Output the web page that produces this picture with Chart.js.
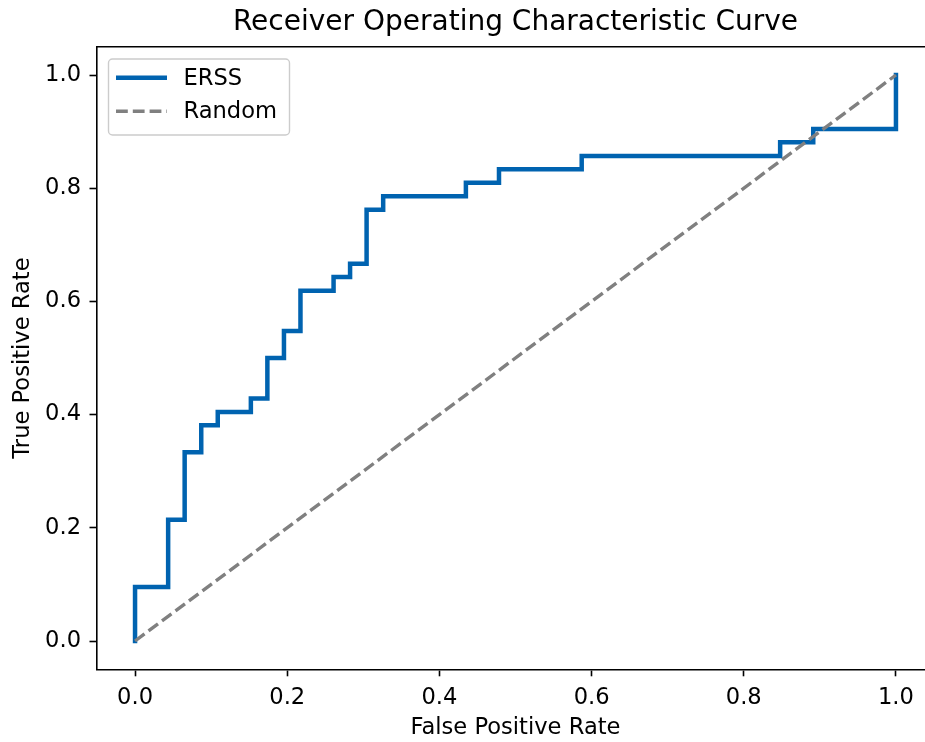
<!DOCTYPE html>
<html>
<head>
<meta charset="utf-8">
<script src="https://cdn.jsdelivr.net/npm/chart.js@4.4.1/dist/chart.umd.min.js"></script>
<style>
html, body { margin: 0; padding: 0; background: #fff; overflow: hidden; }
#wrap { width: 945px; height: 742px; }
</style>
</head>
<body>
<div id="wrap"><canvas id="rocCanvas" width="945" height="742"></canvas></div>
<script>
// ROC corner points
const fpr = [0, 0, 0.0435, 0.0435, 0.0652, 0.0652, 0.0870, 0.0870, 0.1087, 0.1087,
             0.1522, 0.1522, 0.1739, 0.1739, 0.1957, 0.1957, 0.2174, 0.2174, 0.2609, 0.2609,
             0.2826, 0.2826, 0.3043, 0.3043, 0.3261, 0.3261, 0.4348, 0.4348, 0.4783, 0.4783,
             0.5870, 0.5870, 0.8478, 0.8478, 0.8913, 0.8913, 1.0, 1.0];
const tpr = [0, 0.0952, 0.0952, 0.2143, 0.2143, 0.3333, 0.3333, 0.3810, 0.3810, 0.4048,
             0.4048, 0.4286, 0.4286, 0.5000, 0.5000, 0.5476, 0.5476, 0.6190, 0.6190, 0.6429,
             0.6429, 0.6667, 0.6667, 0.7619, 0.7619, 0.7857, 0.7857, 0.8095, 0.8095, 0.8333,
             0.8333, 0.8571, 0.8571, 0.8810, 0.8810, 0.9048, 0.9048, 1.0];
const randomX = [0, 1];
const randomY = [0, 1];
const xTicks = [0, 0.2, 0.4, 0.6, 0.8, 1.0];
const yTicks = [0, 0.2, 0.4, 0.6, 0.8, 1.0];
const seriesLabels = ['ERSS', 'Random'];

const FONT = 'DejaVu Sans';
const SPINE = 1.6;
const LABEL_SIZE = 22.6;

// top/right spines + matplotlib-style legend inside the axes
const frameAndLegend = {
    id: 'frameAndLegend',
    afterDraw(chart) {
        const { ctx, chartArea: a } = chart;
        ctx.save();
        ctx.strokeStyle = '#000';
        ctx.lineWidth = SPINE;
        ctx.beginPath();
        ctx.moveTo(a.left, a.top);
        ctx.lineTo(a.right, a.top);
        ctx.lineTo(a.right, a.bottom);
        ctx.stroke();

        const bx = 108.5, by = 59, bw = 181, bh = 76;
        ctx.fillStyle = 'rgba(255,255,255,0.8)';
        ctx.strokeStyle = '#cccccc';
        ctx.lineWidth = 1.4;
        ctx.beginPath();
        ctx.roundRect(bx, by, bw, bh, 4);
        ctx.fill();
        ctx.stroke();

        chart.data.datasets.forEach((ds, row) => {
            const y = 77.7 + row * 33.6;
            ctx.strokeStyle = ds.borderColor;
            ctx.lineWidth = ds.borderWidth;
            ctx.setLineDash(ds.borderDash || []);
            ctx.beginPath();
            ctx.moveTo(116, y);
            ctx.lineTo(167, y);
            ctx.stroke();
            ctx.setLineDash([]);
            ctx.fillStyle = '#000';
            ctx.font = `${LABEL_SIZE}px "${FONT}"`;
            ctx.textBaseline = 'middle';
            ctx.textAlign = 'left';
            ctx.fillText(ds.label, 183.5, y + 1);
        });
        ctx.restore();
    }
};

function axisOpts(ticks, title, fitFn, tickLen, tickPad, titlePad) {
    return {
        type: 'linear',
        min: -0.05,
        max: 1.05,
        afterBuildTicks: scale => { scale.ticks = ticks.map(v => ({ value: v })); },
        afterFit: fitFn,
        ticks: {
            callback: v => Number(v).toFixed(1),
            font: { family: FONT, size: LABEL_SIZE },
            color: '#000',
            padding: tickPad,
            maxRotation: 0,
            autoSkip: false
        },
        grid: {
            display: true,
            drawOnChartArea: false,
            drawTicks: true,
            tickLength: tickLen,
            tickColor: '#000',
            tickWidth: SPINE
        },
        border: { display: true, color: '#000', width: SPINE },
        title: {
            display: true,
            text: title,
            color: '#000',
            font: { family: FONT, size: LABEL_SIZE },
            padding: titlePad
        }
    };
}

const ctx = document.getElementById('rocCanvas').getContext('2d');
const chart = new Chart(ctx, {
    type: 'line',
    data: {
        datasets: [
            {
                label: seriesLabels[0],
                data: fpr.map((x, i) => ({ x: x, y: tpr[i] })),
                borderColor: '#0063b0',
                borderWidth: 4.5,
                borderJoinStyle: 'miter',
                borderCapStyle: 'square',
                pointRadius: 0,
                tension: 0,
                fill: false,
                order: 1
            },
            {
                label: seriesLabels[1],
                data: randomX.map((x, i) => ({ x: x, y: randomY[i] })),
                borderColor: '#808080',
                borderWidth: 3.4,
                borderDash: [11.8, 5.0],
                pointRadius: 0,
                tension: 0,
                fill: false,
                order: 0
            }
        ]
    },
    options: {
        responsive: false,
        animation: false,
        devicePixelRatio: 1,
        layout: { padding: { left: 0, right: 11, top: 0, bottom: 0 } },
        scales: {
            x: axisOpts(xTicks, 'False Positive Rate', s => { s.height = 72.7; }, 7, 8, { top: 0, bottom: 0 }),
            y: axisOpts(yTicks, 'True Positive Rate', s => { s.width = 97; }, 7.5, 8.5, { top: 10, bottom: 0 })
        },
        plugins: {
            legend: { display: false },
            tooltip: { enabled: false },
            title: {
                display: true,
                text: 'Receiver Operating Characteristic Curve',
                color: '#000',
                fullSize: false,
                font: { family: FONT, size: 28, weight: 'normal' },
                padding: { top: 6, bottom: 7.1 }
            }
        }
    },
    plugins: [frameAndLegend]
});
</script>
</body>
</html>
